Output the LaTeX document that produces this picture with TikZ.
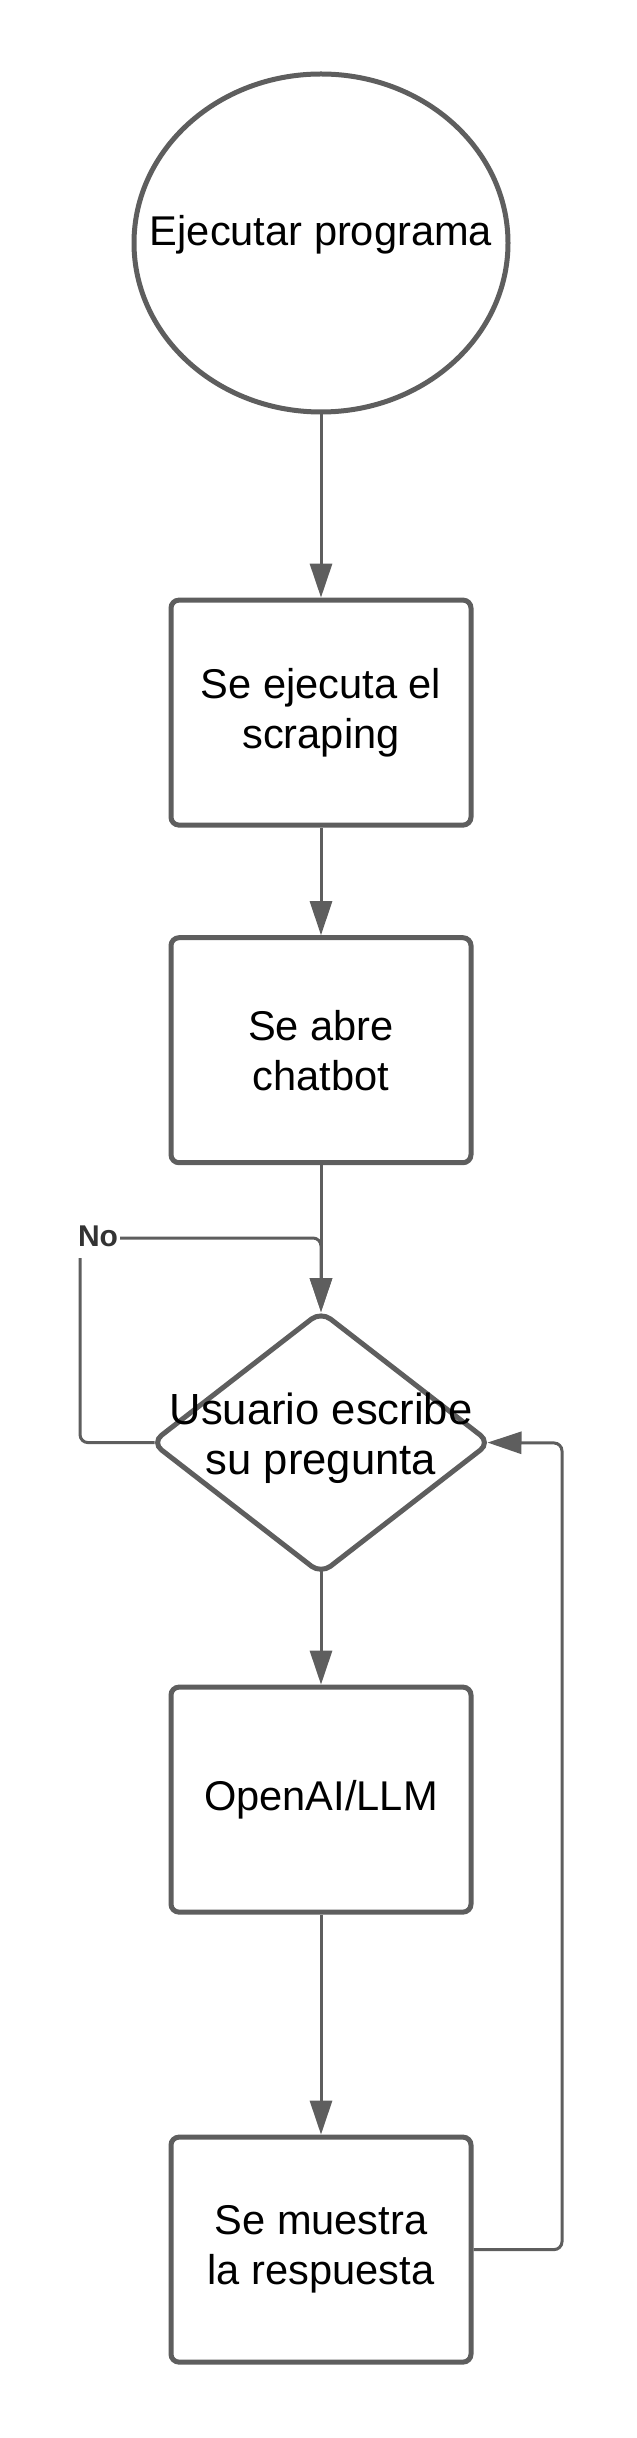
\documentclass[tikz,border=0pt]{standalone}
\usepackage{fontspec}
\setmainfont{Liberation Sans}
\usepackage{tikz}
\usetikzlibrary{positioning}
\usetikzlibrary{shapes.geometric}
\usetikzlibrary{arrows.meta}
\definecolor{linegray}{RGB}{94,94,94}
\definecolor{labelgray}{RGB}{51,51,51}

\begin{document}
\begin{tikzpicture}[
  x=0.25pt,y=-0.25pt,on grid,
  >={Triangle[length=8.5pt,width=5.5pt]},
  flow/.style={draw=linegray,line width=0.75pt,rounded corners=2pt},
  start/.style={draw=linegray,line width=1.25pt,ellipse,minimum width=93.5pt,minimum height=84.5pt,inner sep=0pt},
  proc/.style={draw=linegray,line width=1.25pt,rectangle,rounded corners=2pt,minimum width=75pt,minimum height=56.25pt,inner sep=0pt,align=center,font=\fontsize{10.4}{12.5}\selectfont},
  decision/.style={draw=linegray,line width=1.25pt,diamond,minimum width=85pt,minimum height=66pt,inner sep=0pt,rounded corners=3pt},
  steptext/.style={align=center,inner sep=0pt,font=\fontsize{10.4}{12.5}\selectfont},
  nolabel/.style={fill=white,text=labelgray,inner xsep=0.5pt,inner ysep=3pt,font=\fontsize{7.5}{9}\selectfont\bfseries}]
  \useasboundingbox (0,0) rectangle (636,2438);

  % flow steps
  \node [start] (begin) at (321,243) {};
  \node [steptext] (begintext) at (321,235) {Ejecutar programa};
  \node [proc, below=117.4pt of begin] (scrap) {Se ejecuta el\\scraping};
  \node [proc, below=84.4pt of scrap] (chat) {Se abre\\chatbot};
  \node [decision, below=98.1pt of chat] (ask) {};
  \node [steptext,font=\fontsize{10.9}{12.5}\selectfont] (asktext) at ([yshift=1pt]ask.center) {Usuario escribe\\su pregunta};
  \node [proc, below=89.25pt of ask] (llm) {OpenAI/LLM};
  \node [proc, below=112.5pt of llm] (show) {Se muestra\\la respuesta};

  % connectors
  \draw [flow,->] (begin) -- (scrap);
  \draw [flow,->] (scrap) -- (chat);
  \draw [flow,->,shorten >=-1pt] (chat) -- (ask);
  \draw [flow,->,shorten <=-1.5pt] (ask) -- (llm);
  \draw [flow,->] (llm) -- (show);

  % loops back to the question
  \coordinate (nocorner) at (80,1238);
  \coordinate (backcorner) at (562,1443);
  \draw [flow,->,shorten <=-1.5pt,shorten >=-1pt] (ask.west) -| (nocorner) -| (ask.north);
  \node [nolabel] (no) at (98,1236) {No};
  \draw [flow,->,shorten >=-1.5pt] (show.east) -| (backcorner) -- (ask.east);
\end{tikzpicture}
\end{document}
